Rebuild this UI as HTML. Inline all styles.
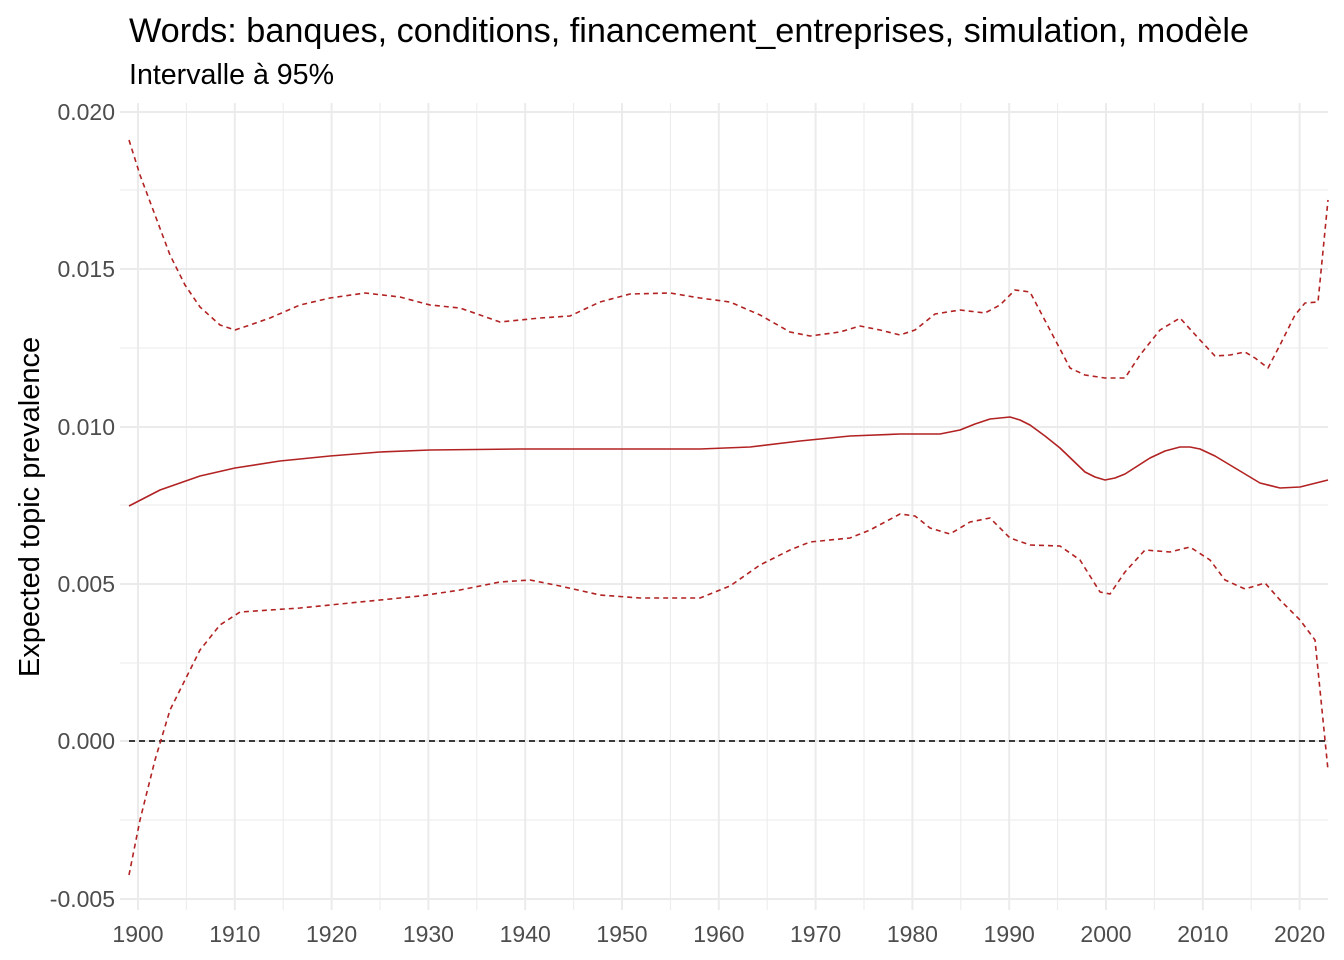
<!DOCTYPE html>
<html><head><meta charset="utf-8"><style>body{margin:0;background:#fff}svg{display:block}</style></head><body>
<svg width="1344" height="960" xmlns="http://www.w3.org/2000/svg" font-family="Liberation Sans, sans-serif">
<rect width="1344" height="960" fill="#fff"/>
<g stroke="#ebebeb" stroke-width="1">
<line x1="120" x2="1328" y1="190" y2="190"/><line x1="120" x2="1328" y1="348" y2="348"/><line x1="120" x2="1328" y1="505" y2="505"/><line x1="120" x2="1328" y1="663" y2="663"/><line x1="120" x2="1328" y1="820" y2="820"/>
<line y1="103" y2="910" x1="186.4" x2="186.4"/><line y1="103" y2="910" x1="283.2" x2="283.2"/><line y1="103" y2="910" x1="380" x2="380"/><line y1="103" y2="910" x1="476.8" x2="476.8"/><line y1="103" y2="910" x1="573.6" x2="573.6"/><line y1="103" y2="910" x1="670.4" x2="670.4"/><line y1="103" y2="910" x1="767.2" x2="767.2"/><line y1="103" y2="910" x1="864" x2="864"/><line y1="103" y2="910" x1="960.8" x2="960.8"/><line y1="103" y2="910" x1="1057.6" x2="1057.6"/><line y1="103" y2="910" x1="1154.4" x2="1154.4"/><line y1="103" y2="910" x1="1251.2" x2="1251.2"/>
</g>
<g stroke="#ebebeb" stroke-width="2">
<line x1="120" x2="1328" y1="112" y2="112"/><line x1="120" x2="1328" y1="269" y2="269"/><line x1="120" x2="1328" y1="427" y2="427"/><line x1="120" x2="1328" y1="584" y2="584"/><line x1="120" x2="1328" y1="741" y2="741"/><line x1="120" x2="1328" y1="899" y2="899"/>
<line y1="103" y2="910" x1="138" x2="138"/><line y1="103" y2="910" x1="234.8" x2="234.8"/><line y1="103" y2="910" x1="331.6" x2="331.6"/><line y1="103" y2="910" x1="428.4" x2="428.4"/><line y1="103" y2="910" x1="525.2" x2="525.2"/><line y1="103" y2="910" x1="622" x2="622"/><line y1="103" y2="910" x1="718.8" x2="718.8"/><line y1="103" y2="910" x1="815.6" x2="815.6"/><line y1="103" y2="910" x1="912.4" x2="912.4"/><line y1="103" y2="910" x1="1009.2" x2="1009.2"/><line y1="103" y2="910" x1="1106" x2="1106"/><line y1="103" y2="910" x1="1202.8" x2="1202.8"/><line y1="103" y2="910" x1="1299.6" x2="1299.6"/>
</g>
<line x1="129" x2="1328" y1="741" y2="741" stroke="#000" stroke-width="1.6" stroke-dasharray="6,4"/>
<g fill="none" stroke="#b22222" stroke-width="1.6" stroke-linejoin="round">
<polyline points="129,506 160,490 200,476 235,468 280,461 330,456 380,452 430,450 520,449 620,449 700,449 750,447 800,441 850,436 900,434 940,434 960,430 975,424 990,419 1010,417 1020,420 1030,425 1045,436 1060,448 1085,472 1095,477 1105,480 1115,478 1125,474 1150,458 1165,451 1180,447 1190,447 1200,449 1215,456 1230,465 1260,483 1280,488 1300,487 1328,480"/>
<g stroke-dasharray="5,4">
<polyline points="129,140 140,175 155,215 170,255 185,285 200,307 220,325 235,330 250,325 270,318 300,305 330,298 365,293 400,297 430,305 460,308 500,322 540,318 570,316 600,302 630,294 670,293 700,298 730,302 760,315 790,332 810,336 840,332 860,326 880,330 900,335 915,330 935,314 960,310 985,313 1000,305 1015,290 1030,292 1050,330 1070,368 1085,375 1105,378 1125,378 1140,355 1160,330 1180,318 1200,340 1215,356 1230,355 1245,352 1255,358 1268,368 1280,345 1295,315 1305,303 1318,302 1328,200"/>
<polyline points="129,875 140,820 155,760 170,710 185,680 200,650 220,625 240,612 270,610 300,608 340,604 380,600 420,596 460,590 500,582 530,580 560,586 600,595 640,598 700,598 730,586 760,565 790,550 810,542 850,538 870,530 900,514 915,516 930,528 950,534 970,522 990,518 1010,538 1030,545 1060,546 1080,560 1100,592 1110,594 1125,572 1145,550 1170,552 1190,547 1210,560 1225,580 1245,589 1265,583 1280,600 1300,620 1315,640 1328,770"/>
</g></g>
<g font-size="23" fill="#4d4d4d" text-anchor="end">
<text x="115" y="120">0.020</text><text x="115" y="277">0.015</text><text x="115" y="435">0.010</text><text x="115" y="592">0.005</text><text x="115" y="749">0.000</text><text x="115" y="907">-0.005</text>
</g>
<g font-size="23" fill="#4d4d4d" text-anchor="middle">
<text x="138" y="942">1900</text><text x="234.8" y="942">1910</text><text x="331.6" y="942">1920</text><text x="428.4" y="942">1930</text><text x="525.2" y="942">1940</text><text x="622" y="942">1950</text><text x="718.8" y="942">1960</text><text x="815.6" y="942">1970</text><text x="912.4" y="942">1980</text><text x="1009.2" y="942">1990</text><text x="1106" y="942">2000</text><text x="1202.8" y="942">2010</text><text x="1299.6" y="942">2020</text>
</g>
<text x="39" y="507" font-size="29" text-anchor="middle" transform="rotate(-90 39 507)">Expected topic prevalence</text>
<text x="129" y="42" font-size="34" textLength="1120" lengthAdjust="spacingAndGlyphs">Words: banques, conditions, financement_entreprises, simulation, modèle</text>
<text x="129" y="84" font-size="28.5" textLength="205" lengthAdjust="spacingAndGlyphs">Intervalle à 95%</text>
</svg>
</body></html>
